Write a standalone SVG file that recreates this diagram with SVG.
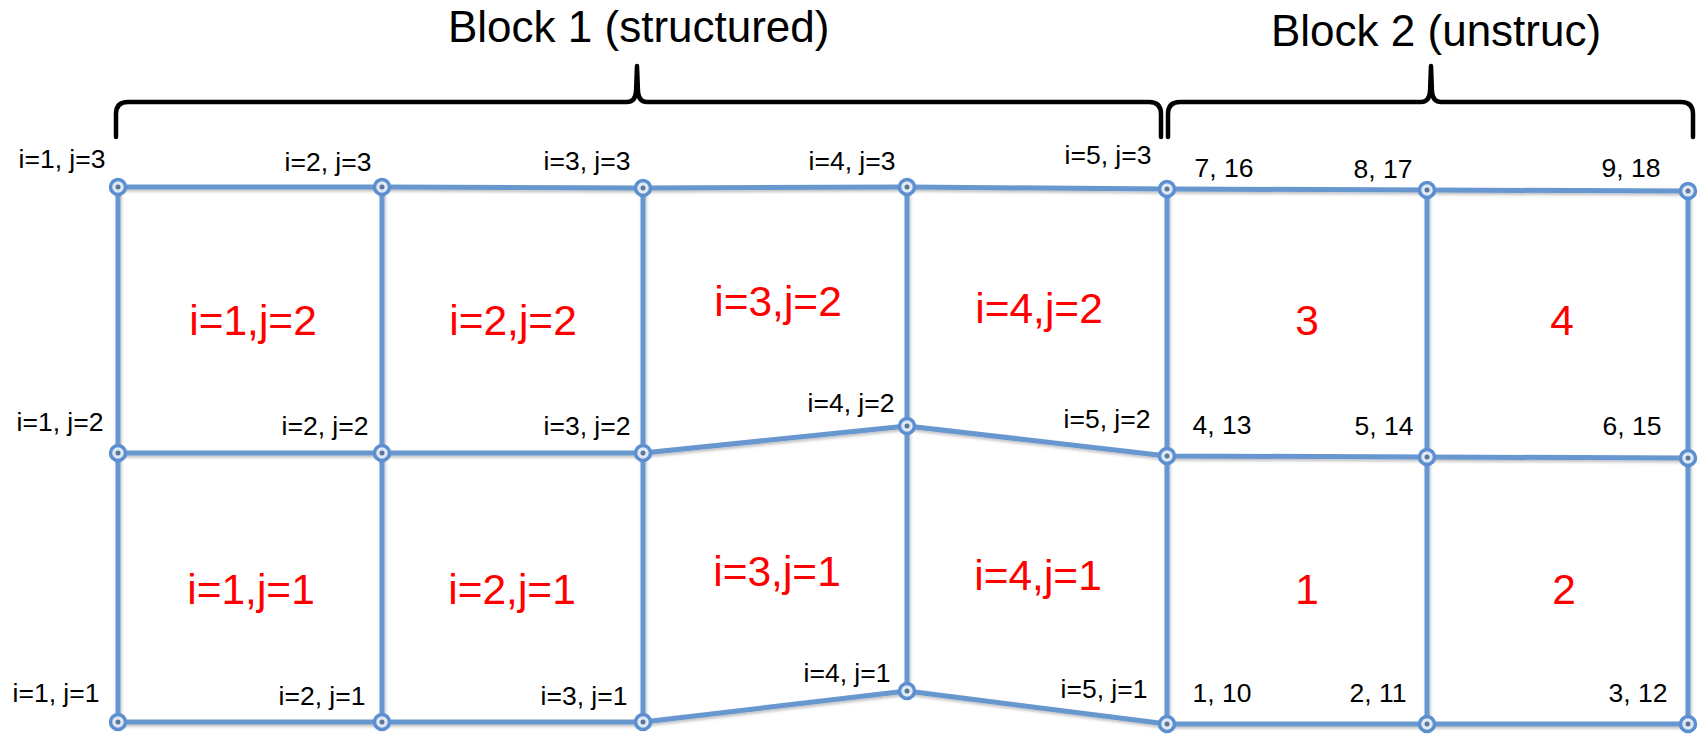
<svg xmlns="http://www.w3.org/2000/svg" width="1701" height="739" viewBox="0 0 1701 739">
<style>
.edge{stroke:#6797cf;stroke-width:5;fill:none;stroke-linejoin:round}
.brace{stroke:#000;stroke-width:4.5;fill:none;stroke-linecap:round;stroke-linejoin:round}
.vl{font-family:"Liberation Sans",Arial,sans-serif;font-size:26.5px;fill:#000;text-anchor:middle}
.cl{font-family:"Liberation Sans",Arial,sans-serif;font-size:42.5px;fill:#ff0000;text-anchor:middle}
.title{font-family:"Liberation Sans",Arial,sans-serif;font-size:44px;fill:#000}
</style>
<defs>
<filter id="sh" x="-5%" y="-5%" width="110%" height="110%">
<feDropShadow dx="1" dy="2" stdDeviation="1.5" flood-color="#000" flood-opacity="0.25"/>
</filter>
<g id="pt">
<circle r="7.5" fill="#dfe8f4" stroke="#5b8fd0" stroke-width="3.5"/>
<circle r="2.5" fill="#5d7896"/>
</g>
</defs>
<rect width="1701" height="739" fill="#fff"/>

<g id="brace1">
<path class="brace" d="M116,137 L116,114 Q116,102 128,102 L627,102 Q635,102 636,92 L637,66 L638,92 Q639,102 647,102 L1149,102 Q1161,102 1161,114 L1161,137"/>
<text class="title" x="448" y="42">Block 1 (structured)</text>
</g>
<g id="brace2">
<path class="brace" d="M1168,137 L1168,114 Q1168,102 1180,102 L1421,102 Q1429,102 1430,92 L1431,66 L1432,92 Q1433,102 1441,102 L1681,102 Q1693,102 1693,114 L1693,137"/>
<text class="title" x="1271" y="46">Block 2 (unstruc)</text>
</g>

<g id="connectors" filter="url(#sh)">
<polyline class="edge" points="118,187 382,187 643,188 907,187 1167,189 1427,190 1688,191"/>
<polyline class="edge" points="118,453 382,453 643,453 907,426 1167,456 1427,457 1688,458"/>
<polyline class="edge" points="118,722 382,722 643,722 907,691 1167,724 1427,724 1688,724"/>
<polyline class="edge" points="118,187 118,453 118,722"/>
<polyline class="edge" points="382,187 382,453 382,722"/>
<polyline class="edge" points="643,188 643,453 643,722"/>
<polyline class="edge" points="907,187 907,426 907,691"/>
<polyline class="edge" points="1167,189 1167,456 1167,724"/>
<polyline class="edge" points="1427,190 1427,457 1427,724"/>
<polyline class="edge" points="1688,191 1688,458 1688,724"/>
</g>

<g id="cells">
<g id="c11"><text class="cl" x="251" y="604">i=1,j=1</text></g>
<g id="c21"><text class="cl" x="512" y="604">i=2,j=1</text></g>
<g id="c31"><text class="cl" x="777" y="586">i=3,j=1</text></g>
<g id="c41"><text class="cl" x="1038" y="590">i=4,j=1</text></g>
<g id="c12"><text class="cl" x="253" y="335">i=1,j=2</text></g>
<g id="c22"><text class="cl" x="513" y="335">i=2,j=2</text></g>
<g id="c32"><text class="cl" x="778" y="316">i=3,j=2</text></g>
<g id="c42"><text class="cl" x="1039" y="323">i=4,j=2</text></g>
<g id="u1"><text class="cl" x="1307" y="604">1</text></g>
<g id="u2"><text class="cl" x="1564" y="604">2</text></g>
<g id="u3"><text class="cl" x="1307" y="335">3</text></g>
<g id="u4"><text class="cl" x="1562" y="335">4</text></g>
</g>

<g id="nodes">
<g id="n13"><use href="#pt" x="118" y="187"/><text class="vl" x="62" y="168">i=1, j=3</text></g>
<g id="n23"><use href="#pt" x="382" y="187"/><text class="vl" x="328" y="171">i=2, j=3</text></g>
<g id="n33"><use href="#pt" x="643" y="188"/><text class="vl" x="587" y="170">i=3, j=3</text></g>
<g id="n43"><use href="#pt" x="907" y="187"/><text class="vl" x="852" y="170">i=4, j=3</text></g>
<g id="n53"><use href="#pt" x="1167" y="189"/><text class="vl" x="1108" y="164">i=5, j=3</text></g>
<g id="v8"><text class="vl" x="1224" y="177">7, 16</text></g>
<g id="v9"><use href="#pt" x="1427" y="190"/><text class="vl" x="1383" y="178">8, 17</text></g>
<g id="v10"><use href="#pt" x="1688" y="191"/><text class="vl" x="1631" y="177">9, 18</text></g>

<g id="n12"><use href="#pt" x="118" y="453"/><text class="vl" x="60" y="431">i=1, j=2</text></g>
<g id="n22"><use href="#pt" x="382" y="453"/><text class="vl" x="325" y="435">i=2, j=2</text></g>
<g id="n32"><use href="#pt" x="643" y="453"/><text class="vl" x="587" y="435">i=3, j=2</text></g>
<g id="n42"><use href="#pt" x="907" y="426"/><text class="vl" x="851" y="412">i=4, j=2</text></g>
<g id="n52"><use href="#pt" x="1167" y="456"/><text class="vl" x="1107" y="428">i=5, j=2</text></g>
<g id="v4"><text class="vl" x="1222" y="434">4, 13</text></g>
<g id="v5"><use href="#pt" x="1427" y="457"/><text class="vl" x="1384" y="435">5, 14</text></g>
<g id="v6"><use href="#pt" x="1688" y="458"/><text class="vl" x="1632" y="435">6, 15</text></g>

<g id="n11"><use href="#pt" x="118" y="722"/><text class="vl" x="56" y="702">i=1, j=1</text></g>
<g id="n21"><use href="#pt" x="382" y="722"/><text class="vl" x="322" y="705">i=2, j=1</text></g>
<g id="n31"><use href="#pt" x="643" y="722"/><text class="vl" x="584" y="705">i=3, j=1</text></g>
<g id="n41"><use href="#pt" x="907" y="691"/><text class="vl" x="847" y="682">i=4, j=1</text></g>
<g id="n51"><use href="#pt" x="1167" y="724"/><text class="vl" x="1104" y="698">i=5, j=1</text></g>
<g id="v1"><text class="vl" x="1222" y="702">1, 10</text></g>
<g id="v2"><use href="#pt" x="1427" y="724"/><text class="vl" x="1378" y="702">2, 11</text></g>
<g id="v3"><use href="#pt" x="1688" y="724"/><text class="vl" x="1638" y="702">3, 12</text></g>
</g>
</svg>
